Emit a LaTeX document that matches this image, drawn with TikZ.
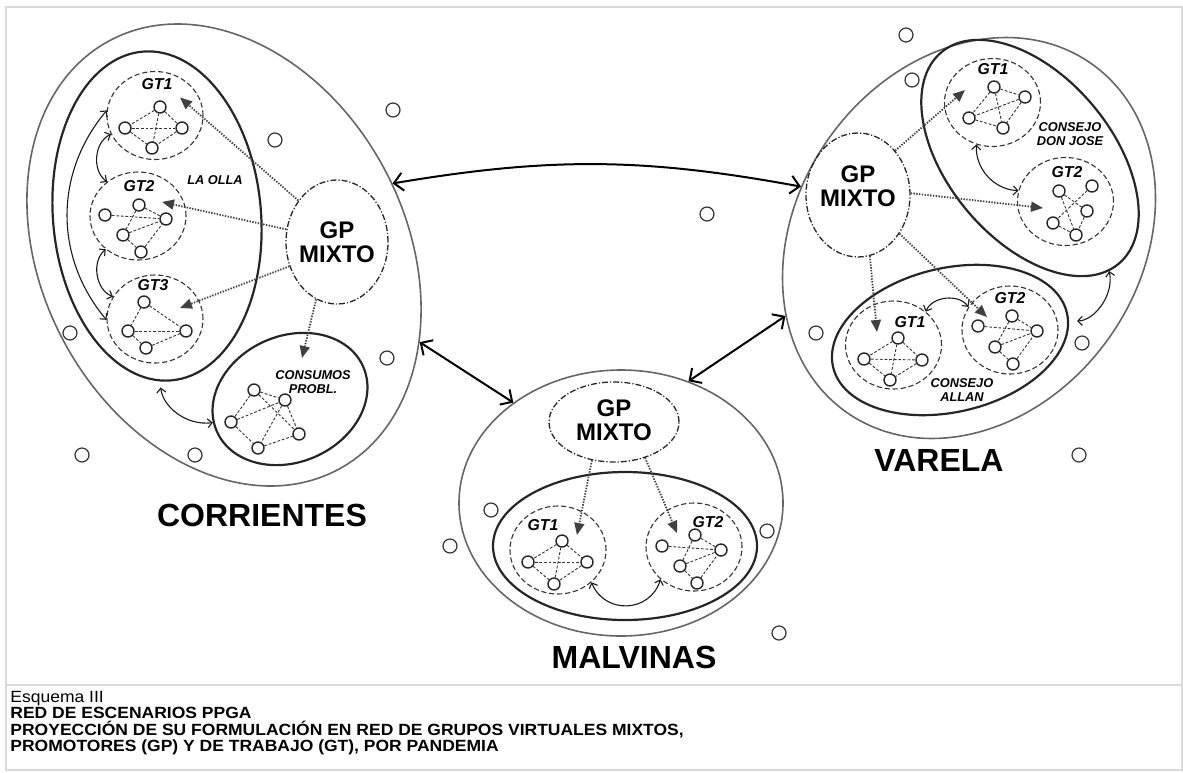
\documentclass[tikz,border=0pt]{standalone}
\usepackage{fontspec}
\setmainfont{Liberation Sans}
\usetikzlibrary{shapes.geometric, arrows.meta, calc}

\begin{document}
\begin{tikzpicture}[x=0.5pt, y=-0.5pt,
  region/.style={ellipse, draw=black!60, line width=0.8pt, inner sep=0pt},
  council/.style={ellipse, draw=black!85, line width=1.1pt, inner sep=0pt},
  gt/.style={ellipse, draw=black!80, line width=0.55pt, dash pattern=on 2.6pt off 1.4pt, minimum width=48pt, minimum height=44pt, inner sep=0pt},
  gp/.style={ellipse, draw=black!85, line width=0.65pt, dash pattern=on 3pt off 1pt on 0.6pt off 1pt, inner sep=0pt},
  member/.style={circle, draw=black!85, line width=0.7pt, minimum size=6pt, inner sep=0pt},
  freeone/.style={circle, draw=black!80, line width=0.6pt, minimum size=7pt, inner sep=0pt},
  link/.style={draw=black!80, line width=0.45pt, dash pattern=on 1.4pt off 0.9pt},
  guide/.style={draw=black!75, line width=0.9pt, dash pattern=on 0.7pt off 0.7pt, -{Triangle[length=6pt,width=5pt]}},
  twoway/.style={draw=black!90, line width=0.55pt, {Straight Barb[length=2.2pt,width=4.5pt]}-{Straight Barb[length=2.2pt,width=4.5pt]}},
  bigway/.style={draw=black, line width=1pt, {Straight Barb[length=4.5pt,width=9pt]}-{Straight Barb[length=4.5pt,width=9pt]}},
  gtlabel/.style={font=\fontsize{7.9}{8}\selectfont\bfseries\itshape},
  tag/.style={font=\fontsize{6.4}{7}\selectfont\bfseries\itshape, align=center},
  gptext/.style={font=\fontsize{12}{11.9}\selectfont\bfseries, align=center},
  placename/.style={font=\fontsize{16}{16}\selectfont\bfseries},
  capline/.style={anchor=base west, xscale=1.08, font=\fontsize{8.1}{8.1}\selectfont, inner sep=0pt},
  frame/.style={draw=black!15, line width=1pt}
]
  \useasboundingbox (0,0) rectangle (1183,772);

  % Frame and caption rule
  \draw[frame] (6,7) rectangle (1182,770);
  \draw[frame] (6,685) -- (1182,685);

  % Corrientes
  \node[region, minimum width=182pt, minimum height=243pt, rotate=28] (corr) at (224,255) {};
  \node[council, minimum width=104pt, minimum height=165pt, rotate=5] (olla) at (157,216) {};
  \node[council, minimum width=80pt, minimum height=63pt, rotate=24] (cons) at (290,399) {};
  \node[gp, minimum width=51pt, minimum height=62pt] (cgp) at (337,242) {};
  \node[gt] (cg1) at (155,115.5) {};
  \node[gt] (cg2) at (138,216) {};
  \node[gt] (cg3) at (155,319) {};

  % Malvinas
  \node[region, minimum width=162pt, minimum height=133pt] (malv) at (621,503) {};
  \node[council, minimum width=132pt, minimum height=74pt] (mset) at (625,546) {};
  \node[gp, minimum width=65pt, minimum height=40pt] (mgp) at (614,422) {};
  \node[gt] (mg1) at (558,550) {};
  \node[gt] (mg2) at (694,547) {};

  % Varela
  \node[region, minimum width=172pt, minimum height=213pt, rotate=-35] (var) at (969,238) {};
  \node[council, minimum width=82pt, minimum height=138pt, rotate=40] (djose) at (1030,158) {};
  \node[council, minimum width=120pt, minimum height=72pt, rotate=13] (allan) at (950,340) {};
  \node[gp, minimum width=52pt, minimum height=62pt] (vgp) at (858,195) {};
  \node[gt] (dg1) at (992.5,102.5) {};
  \node[gt] (dg2) at (1065.5,201.5) {};
  \node[gt] (ag1) at (893.5,345) {};
  \node[gt] (ag2) at (1010,330) {};

  % Members of each group
  \foreach \n/\x/\y in {c1a/160/107, c1b/125/128, c1c/182/128, c1d/152/148,
      c2a/105/215, c2b/139/205, c2c/166/219, c2d/123/235, c2e/141/252,
      c3a/144/302, c3b/128/331, c3c/186/331, c3d/146/348,
      ka/254/390, kb/285/400, kc/231/422, kd/299/434, ke/258/448,
      m1a/562/541, m1b/528/562, m1c/587/562, m1d/554/584,
      m2a/662/546, m2b/695/535, m2c/721/550, m2d/680/566, m2e/697/583,
      d1a/994/87, d1b/1025/97, d1c/969/118, d1d/1003/128,
      d2a/1059/191, d2b/1092/186, d2c/1087/211, d2d/1053/223, d2e/1076/235,
      a1a/898/338, a1b/864/359, a1c/922/360, a1d/890/380,
      a2a/978/326, a2b/1012/316, a2c/1037/331, a2d/995/347, a2e/1013/364}
    \node[member] (\n) at (\x,\y) {};

  % Links inside the groups
  \foreach \g in {c1, m1, d1, a1}
    \foreach \a/\b in {a/b, a/c, a/d, b/c, b/d, c/d}
      \draw[link] (\g\a) -- (\g\b);
  \foreach \g in {c2, m2, a2}
    \foreach \a/\b in {a/c, b/c, b/d, d/c, d/e, e/c}
      \draw[link] (\g\a) -- (\g\b);
  \foreach \a/\b in {a/b, a/c, b/c, b/d, d/c}
    \draw[link] (c3\a) -- (c3\b);
  \foreach \a/\b in {a/c, a/e, b/d, c/e, d/e}
    \draw[link] (d2\a) -- (d2\b);
  \foreach \a/\b in {a/b, a/c, a/d, c/b, b/e, b/d, c/e, e/d}
    \draw[link] (k\a) -- (k\b);

  % Loose circles
  \foreach \n/\x/\y in {f1/393/110, f2/275/140, f3/70/333, f4/387/358, f5/82/455,
      f6/195/455, f7/707/214, f8/906/35, f9/912/80, f10/816/333, f11/1082/343,
      f12/1079/455, f13/491/510, f14/450/546, f15/767/531, f16/779/633}
    \node[freeone] (\n) at (\x,\y) {};

  % Arrows between the places
  \draw[bigway] (corr.-5.5) to[bend left=10] (var.198);
  \draw[bigway] (corr.-52.7) -- (malv.137.7);
  \draw[bigway] (malv.61.4) -- (var.238.3);

  % Exchanges between groups
  \draw[twoway] (cg1.203) to[bend right=60] (cg2.132);
  \draw[twoway] (cg2.226) to[bend right=60] (cg3.152);
  \draw[twoway] (cg1.174) to[bend right=40] (cg3.181);
  \draw[twoway, shorten <=3pt] (olla.-94) to[bend right=45] (cons.173);
  \draw[twoway] (mg1.-44) to[bend right=70, looseness=1.3] (mg2.224);
  \draw[twoway] (dg1.249) to[bend right=45] (dg2.167);
  \draw[twoway] (ag1.46) to[bend left=60] (ag2.151);
  \draw[twoway, shorten >=4pt] (djose.-95) to[bend left=50] (allan.-4);

  % GP to the working groups
  \draw[guide] (cgp.133) -- ($(cg1)+(25,-18)$);
  \draw[guide] (cgp.166) -- ($(cg2)+(24,-14)$);
  \draw[guide] (cgp.207) -- ($(cg3)+(25,-11)$);
  \draw[guide] (cgp.250) -- ($(cons)+(12,-41)$);
  \draw[guide] (mgp.240) -- ($(mg1)+(19,-15)$);
  \draw[guide] (mgp.-49.5) -- ($(mg2)+(-17,-14)$);
  \draw[guide] (vgp.50) -- ($(dg1)+(-27.5,-12.5)$);
  \draw[guide] (vgp.2) -- ($(dg2)+(-22.5,6.5)$);
  \draw[guide] (vgp.-79) -- ($(ag1)+(-16.5,-13)$);
  \draw[guide] (vgp.-43) -- ($(ag2)+(-23,-13)$);

  % Labels
  \node[gptext] (cgpt) at (337,242) {GP\\MIXTO};
  \node[gptext] (mgpt) at (614,420) {GP\\MIXTO};
  \node[gptext] (vgpt) at (858,186.5) {GP\\MIXTO};
  \node[gtlabel] (cg1t) at (157,84) {GT1};
  \node[gtlabel] (cg2t) at (139,186) {GT2};
  \node[gtlabel] (cg3t) at (153,285) {GT3};
  \node[gtlabel] (mg1t) at (543,525) {GT1};
  \node[gtlabel] (mg2t) at (708,522) {GT2};
  \node[gtlabel] (dg1t) at (993,69) {GT1};
  \node[gtlabel] (dg2t) at (1067,172) {GT2};
  \node[gtlabel] (ag1t) at (910,322) {GT1};
  \node[gtlabel] (ag2t) at (1010,298) {GT2};
  \node[tag] (ollat) at (215,180) {LA OLLA};
  \node[tag] (const) at (313,382) {CONSUMOS\\PROBL.};
  \node[tag] (djoset) at (1070,134.5) {CONSEJO\\DON JOSE};
  \node[tag] (allant) at (962,390) {CONSEJO\\ALLAN};
  \node[placename] (corrt) at (262,515) {CORRIENTES};
  \node[placename] (malvt) at (634,657.5) {MALVINAS};
  \node[placename] (vart) at (939,460) {VARELA};

  % Caption
  \node[capline] (cap1) at (10,702) {Esquema III};
  \node[capline, font=\fontsize{8.1}{8.1}\selectfont\bfseries] (cap2) at (10,718.5) {RED DE ESCENARIOS PPGA};
  \node[capline, font=\fontsize{8.1}{8.1}\selectfont\bfseries] (cap3) at (10,735) {PROYECCIÓN DE SU FORMULACIÓN EN RED DE GRUPOS VIRTUALES MIXTOS,};
  \node[capline, font=\fontsize{8.1}{8.1}\selectfont\bfseries] (cap4) at (10,751.5) {PROMOTORES (GP) Y DE TRABAJO (GT), POR PANDEMIA};
\end{tikzpicture}
\end{document}
